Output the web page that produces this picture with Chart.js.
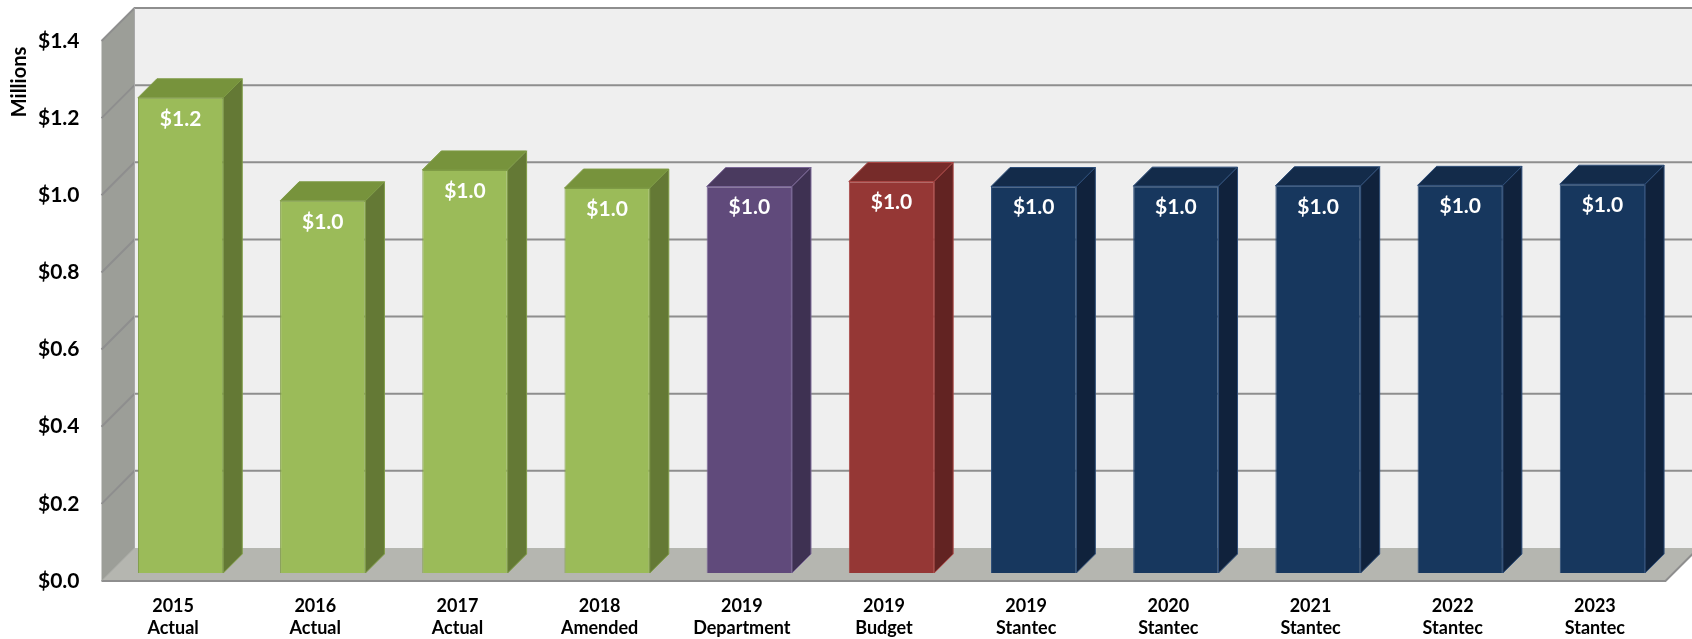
<!DOCTYPE html>
<html><head><meta charset="utf-8">
<script src="https://cdn.jsdelivr.net/npm/chart.js@4.4.0/dist/chart.umd.min.js"></script>
<style>html,body{margin:0;padding:0;background:#fff;overflow:hidden}</style>
</head><body>
<canvas id="c" width="1692" height="639" style="display:block;width:1692px;height:639px"></canvas>
<script>
// ---- data ----
const categories = [
  ['2015','Actual'], ['2016','Actual'], ['2017','Actual'], ['2018','Amended'],
  ['2019','Department'], ['2019','Budget'], ['2019','Stantec'], ['2020','Stantec'],
  ['2021','Stantec'], ['2022','Stantec'], ['2023','Stantec']
];
const values = [1.232, 0.965, 1.045, 0.998, 1.002, 1.015, 1.002, 1.003, 1.004, 1.005, 1.008];
const yMin = 0, yMax = 1.4, yStep = 0.2;
const axisTitle = 'Millions';

// ---- styles ----
const green  = {front:'#9BBB59', top:'#77933C', side:'#647935', border:'#7F9C46'};
const purple = {front:'#604A7B', top:'#4A3A5F', side:'#3E3152', border:'#7A6696'};
const red    = {front:'#953735', top:'#762B29', side:'#622322', border:'#A94644'};
const navy   = {front:'#17375E', top:'#132B4A', side:'#10223C', border:'#2D4D78'};
const barStyles = [green, green, green, green, purple, red, navy, navy, navy, navy, navy];

const FRONT = 8;   // bar plane -> front plane offset
const BACK = 25;   // bar plane -> back wall offset
const BAR_DEPTH = 19;
const FONT = 'Lato, "Open Sans", "DejaVu Sans", sans-serif';

const fmt = v => '$' + Number(v).toFixed(1);

const threeD = {
  id: 'threeD',
  beforeDatasetsDraw(chart) {
    const {ctx, chartArea: a, scales: {y}} = chart;
    const W = chart.width;
    const yb = v => y.getPixelForValue(v);
    const fl = a.left - FRONT, bl = a.left + BACK;
    ctx.save();
    // back wall
    ctx.fillStyle = '#EFEFEF';
    ctx.fillRect(bl, yb(yMax) - BACK, W - bl, yb(yMin) - yb(yMax));
    // left wall
    ctx.fillStyle = '#9C9E98';
    ctx.beginPath();
    ctx.moveTo(fl, yb(yMax) + FRONT);
    ctx.lineTo(bl, yb(yMax) - BACK);
    ctx.lineTo(bl, yb(yMin) - BACK);
    ctx.lineTo(fl, yb(yMin) + FRONT);
    ctx.closePath();
    ctx.fill();
    // gridlines
    ctx.strokeStyle = '#8E8E8E';
    ctx.lineWidth = 2;
    for (let v = yMin + yStep; v <= yMax + 1e-9; v += yStep) {
      const py = yb(v);
      ctx.beginPath();
      ctx.moveTo(fl, py + FRONT);
      ctx.lineTo(bl, py - BACK);
      ctx.lineTo(W, py - BACK);
      ctx.stroke();
    }
    ctx.lineWidth = 1;
    ctx.strokeStyle = '#A8A8A8';
    ctx.beginPath();
    ctx.moveTo(bl, yb(yMax) - BACK);
    ctx.lineTo(bl, yb(yMin) - BACK);
    ctx.stroke();
    // floor
    const fr = a.right - FRONT, y0 = yb(yMin);
    ctx.fillStyle = '#B5B6B0';
    ctx.beginPath();
    ctx.moveTo(fl, y0 + FRONT);
    ctx.lineTo(fr, y0 + FRONT);
    ctx.lineTo(fr + FRONT + BACK, y0 - BACK);
    ctx.lineTo(bl, y0 - BACK);
    ctx.closePath();
    ctx.fill();
    ctx.strokeStyle = '#8E8E8E';
    ctx.lineWidth = 2;
    ctx.beginPath();
    ctx.moveTo(fl, y0 + FRONT);
    ctx.lineTo(fr, y0 + FRONT);
    ctx.lineTo(fr + FRONT + BACK, y0 - BACK);
    ctx.stroke();
    ctx.lineWidth = 1;
    ctx.strokeStyle = '#A0A29C';
    ctx.beginPath();
    ctx.moveTo(fl, y0 + FRONT);
    ctx.lineTo(bl, y0 - BACK);
    ctx.stroke();
    // axis title
    ctx.fillStyle = '#000';
    ctx.font = 'bold 20px ' + FONT;
    ctx.textAlign = 'center';
    ctx.textBaseline = 'middle';
    ctx.translate(20, 82);
    ctx.rotate(-Math.PI / 2);
    ctx.fillText(axisTitle, 0, 0);
    ctx.restore();
  },
  afterDatasetsDraw(chart) {
    const {ctx} = chart;
    const meta = chart.getDatasetMeta(0);
    ctx.save();
    meta.data.forEach((bar, i) => {
      const s = barStyles[i];
      const L = bar.x - bar.width / 2, R = bar.x + bar.width / 2;
      const T = bar.y, B = bar.base, d = BAR_DEPTH;
      ctx.lineWidth = 1;
      ctx.strokeStyle = s.border;
      // top face
      ctx.fillStyle = s.top;
      ctx.beginPath();
      ctx.moveTo(L, T); ctx.lineTo(R, T); ctx.lineTo(R + d, T - d); ctx.lineTo(L + d, T - d);
      ctx.closePath(); ctx.fill(); ctx.stroke();
      // side face
      ctx.fillStyle = s.side;
      ctx.beginPath();
      ctx.moveTo(R, T); ctx.lineTo(R + d, T - d); ctx.lineTo(R + d, B - d); ctx.lineTo(R, B);
      ctx.closePath(); ctx.fill(); ctx.stroke();
      // value label
      ctx.fillStyle = '#FFFFFF';
      ctx.font = 'bold 21px ' + FONT;
      ctx.textAlign = 'center';
      ctx.textBaseline = 'middle';
      ctx.fillText(fmt(values[i]), bar.x, T + 21);
    });
    ctx.restore();
  }
};

new Chart(document.getElementById('c'), {
  type: 'bar',
  data: {
    labels: categories,
    datasets: [{
      data: values,
      backgroundColor: barStyles.map(s => s.front),
      borderColor: barStyles.map(s => s.border),
      borderWidth: 1,
      barPercentage: 0.6,
      categoryPercentage: 1.0
    }]
  },
  options: {
    responsive: false,
    devicePixelRatio: 1,
    animation: false,
    layout: {padding: {left: 0, right: 18.5, top: 33, bottom: 0}},
    plugins: {legend: {display: false}, tooltip: {enabled: false}},
    scales: {
      x: {
        grid: {display: false, drawTicks: false},
        border: {display: false},
        ticks: {
          color: '#000', autoSkip: false, maxRotation: 0, minRotation: 0,
          font: {family: FONT, weight: 'bold', size: 18, lineHeight: 22 / 18},
          padding: 22, labelOffset: -7.5
        },
        afterFit(scale) { scale.height = 66; scale.paddingLeft = 0; scale.paddingRight = 0; }
      },
      y: {
        min: yMin, max: yMax,
        grid: {display: false, drawTicks: false},
        border: {display: false},
        ticks: {
          stepSize: yStep, color: '#000',
          font: {family: FONT, weight: 'bold', size: 21},
          padding: 30, labelOffset: 8,
          callback: v => fmt(v)
        },
        afterFit(scale) { scale.width = 109.5; scale.paddingTop = 0; scale.paddingBottom = 0; }
      }
    }
  },
  plugins: [threeD]
});
</script>
</body></html>
